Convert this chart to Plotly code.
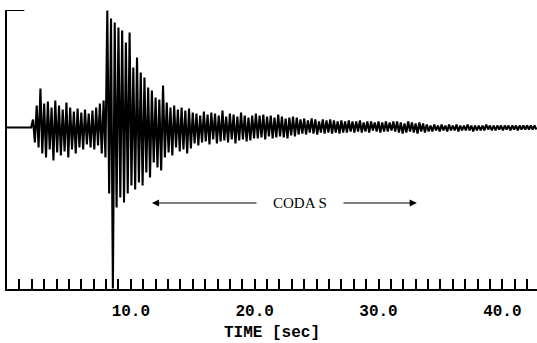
import plotly.graph_objects as go

# --- data (amplitudes, arbitrary units, positive = up) ---
onset_time = 2.1          # s, first arrival
sample_step = 0.15        # s, spacing of the read peaks
quiet_times = [0.0, 1.95]
quiet_values = [0, 0]

p_phase = [8, -15, 22, -20, 39, -26, 24, -30, 26, -22, 20, -33, 27, -25, 22, -28,
           18, -24, 25, -30, 20, -22, 16, -26, 19, -20, 15, -22, 18, -17, 14, -20,
           17, -22, 20, -18, 24, -26, 27, -30]
s_phase = [117, -66, 109, -161, 105, -80, 100, -70, 97, -75, 85, -66, 95, -58, 60,
           -62, 70, -55, 55, -58]
coda_1 = [50, -45, 40, -50, 37, -35, 30, -40, 28, -43, 42, -30, 25]
coda_2 = [-25, 20, -28, 22, -20, 18, -24, 20, -22, 17, -26, 19, -21, 15]
coda_3 = [-16, 14, -18, 12, -15, 16, -14, 13, -17, 15, -12, 14, -16, 12, -14, 17,
          -13, 11, -15, 14, -12, 13, -16, 11, -13, 15, -12, 12, -14, 10, -13, 12, -11]
coda_4 = [14, -11, 12, -10, 13, -12, 11, -9, 12, -11, 10, -10, 13, -9, 11, -10, 9,
          -11, 10, -8, 11, -9]
coda_5 = [10, -7, 8, -6, 9, -7, 7, -5, 9, -6, 8, -7, 6, -5, 8, -6, 7, -5, 8, -6, 7,
          -5, 6, -6, 7, -5, 6]
coda_6 = [-5, 7, -4, 6, -5, 6, -4, 7, -5, 5, -4, 6, -5, 6, -3, 5, -4, 6, -5, 5, -4,
          6, -4, 5, -3, 6, -4]
coda_7 = [6, -5, 5, -6, 4, -5, 6, -4, 5, -5, 4, -6, 5, -4, 4, -5]
coda_8 = [3, -4, 2, -4, 3, -3, 2, -4, 3, -3, 2, -4, 3, -3, 2, -3, 3, -4, 2, -3, 2,
          -3, 3, -3, 2, -4, 2, -3, 2, -3, 2, -3, 3, -2, 2, -3, 2, -3, 2, -2, 2, -3,
          2, -2, 2, -3, 2, -2, 2, -3, 2, -2, 2, -2, 2, -2, 2, -2, 2, -2]

tick_values = [10, 20, 30, 40]
tick_labels = ["10.0", "20.0", "30.0", "40.0"]
x_title = "TIME [sec]"
coda_label = "CODA S"
coda_start, coda_end = 11.7, 33.1
coda_text_x = 23.66
coda_level = -75.5
amp_top, amp_bottom = 117.5, -161.5
time_max = 42.8

signal = p_phase + s_phase + coda_1 + coda_2 + coda_3 + coda_4 + coda_5 + coda_6 + coda_7 + coda_8
sig_times = [onset_time + i * sample_step for i in range(len(signal))]
times = quiet_times + sig_times
values = quiet_values + signal

fig = go.Figure()
fig.add_trace(go.Scatter(x=times, y=values, mode="lines",
                         line=dict(color="black", width=2.1), hoverinfo="skip"))

# scale mark at top of the amplitude axis
fig.add_shape(type="line", xref="x", yref="y", x0=0, x1=1.4, y0=amp_top, y1=amp_top,
              line=dict(color="black", width=2))

# CODA S arrows and label
fig.add_annotation(x=coda_text_x, y=coda_level, text=coda_label, showarrow=False,
                   font=dict(family="Liberation Serif", size=15, color="black"))
fig.add_annotation(x=coda_start, y=coda_level, ax=20.27, ay=coda_level, axref="x", ayref="y",
                   text="", showarrow=True, arrowhead=2, arrowsize=1.2, arrowwidth=1.2,
                   arrowcolor="black")
fig.add_annotation(x=coda_end, y=coda_level, ax=27.05, ay=coda_level, axref="x", ayref="y",
                   text="", showarrow=True, arrowhead=2, arrowsize=1.2, arrowwidth=1.2,
                   arrowcolor="black")

mono = dict(family="Liberation Mono", size=16, color="black", weight="bold")

fig.update_layout(
    width=537, height=343,
    margin=dict(l=7, r=0, t=10, b=54),
    paper_bgcolor="white", plot_bgcolor="white",
    showlegend=False,
    xaxis=dict(range=[0, time_max], showgrid=False, zeroline=False,
               showline=True, linecolor="black", linewidth=2,
               ticks="inside", ticklen=10, tickwidth=1.5, tickcolor="black",
               tickvals=tick_values, ticktext=tick_labels, tickfont=mono,
               ticklabelstandoff=6,
               minor=dict(dtick=1, tick0=0, ticks="inside", ticklen=10,
                          tickwidth=1.5, tickcolor="black", showgrid=False),
               title=dict(text=x_title, font=mono, standoff=6)),
    yaxis=dict(range=[amp_bottom, amp_top], showgrid=False, zeroline=False,
               showline=True, linecolor="black", linewidth=2,
               showticklabels=False, ticks=""),
)

fig.write_html("out.html", config={"displayModeBar": False, "responsive": False},
               post_script="document.body.style.margin='0';")
